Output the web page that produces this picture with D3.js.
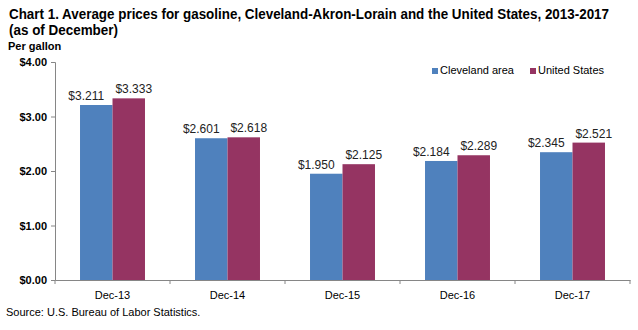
<!DOCTYPE html>
<html>
<head>
<meta charset="utf-8">
<script src="https://cdn.jsdelivr.net/npm/d3@7"></script>
<style>
  body { margin: 0; background: #fff; }
  svg { font-family: "Liberation Sans", Arial, sans-serif; }
</style>
</head>
<body>
<script>
// chart data
const categories = ["Dec-13", "Dec-14", "Dec-15", "Dec-16", "Dec-17"];
const seriesNames = ["Cleveland area", "United States"];
const cleveland = [3.211, 2.601, 1.950, 2.184, 2.345];
const unitedStates = [3.333, 2.618, 2.125, 2.289, 2.521];
const yTicks = [0, 1, 2, 3, 4];
const colors = ["#4F81BD", "#953462"];

const width = 638, height = 330;
const margin = { left: 55, right: 8, top: 62, bottom: 50 };

const svg = d3.select("body").append("svg")
  .attr("width", width)
  .attr("height", height);

// title
svg.append("text")
  .attr("x", 9).attr("y", 19)
  .attr("font-size", 14).attr("font-weight", "bold")
  .attr("textLength", 600).attr("lengthAdjust", "spacingAndGlyphs")
  .text("Chart 1. Average prices for gasoline, Cleveland-Akron-Lorain and the United States, 2013-2017");
svg.append("text")
  .attr("x", 9).attr("y", 35)
  .attr("font-size", 14).attr("font-weight", "bold")
  .attr("textLength", 109).attr("lengthAdjust", "spacingAndGlyphs")
  .text("(as of December)");
svg.append("text")
  .attr("x", 8).attr("y", 50)
  .attr("font-size", 11).attr("font-weight", "bold")
  .text("Per gallon");

const x = d3.scaleBand()
  .domain(categories)
  .range([margin.left, width - margin.right]);

const xInner = d3.scaleBand()
  .domain(seriesNames)
  .range([0, x.bandwidth()])
  .paddingOuter(0.77);

const y = d3.scaleLinear()
  .domain([0, 4])
  .range([height - margin.bottom, margin.top]);

// y axis
const yAxis = svg.append("g")
  .attr("transform", `translate(${margin.left},0)`)
  .call(d3.axisLeft(y).tickValues(yTicks).tickSize(4).tickFormat(d => "$" + d3.format(".2f")(d)));
yAxis.select(".domain").attr("stroke", "#868686");
yAxis.selectAll(".tick line").attr("stroke", "#868686");
yAxis.selectAll(".tick text")
  .attr("font-size", 11).attr("font-weight", "bold")
  .attr("font-family", "Liberation Sans, Arial, sans-serif")
  .attr("fill", "#000").attr("x", -8);

// x axis
const xAxis = svg.append("g")
  .attr("transform", `translate(0,${height - margin.bottom})`)
  .call(d3.axisBottom(x).tickSize(0).tickPadding(11));
xAxis.select(".domain").attr("stroke", "#868686");
xAxis.selectAll(".tick text")
  .attr("font-size", 11)
  .attr("font-family", "Liberation Sans, Arial, sans-serif")
  .attr("fill", "#000");
// separator ticks between categories
svg.append("g").selectAll("line")
  .data(categories.concat(["end"]))
  .join("line")
  .attr("x1", (d, i) => margin.left + i * x.bandwidth())
  .attr("x2", (d, i) => margin.left + i * x.bandwidth())
  .attr("y1", height - margin.bottom)
  .attr("y2", height - margin.bottom + 4)
  .attr("stroke", "#868686");

// bars
const seriesData = [cleveland, unitedStates];
const labelShift = [-10, 5]; // labels pushed apart so they don't collide
const groups = svg.append("g").selectAll("g")
  .data(seriesNames)
  .join("g")
  .attr("fill", (d, i) => colors[i]);

groups.selectAll("rect")
  .data((s, si) => seriesData[si].map((v, i) => ({ s, v, cat: categories[i] })))
  .join("rect")
  .attr("x", d => x(d.cat) + xInner(d.s))
  .attr("width", xInner.bandwidth())
  .attr("y", d => y(d.v))
  .attr("height", d => y(0) - y(d.v));

// value labels
groups.selectAll("text")
  .data((s, si) => seriesData[si].map((v, i) => ({ s, si, v, cat: categories[i] })))
  .join("text")
  .attr("x", d => x(d.cat) + xInner(d.s) + xInner.bandwidth() / 2 + labelShift[d.si])
  .attr("y", d => y(d.v) - 5)
  .attr("text-anchor", "middle")
  .attr("font-size", 12)
  .attr("fill", "#222")
  .text(d => "$" + d3.format(".3f")(d.v));

// legend
const legend = svg.append("g").attr("transform", "translate(432,74)");
const legendX = [0, 98];
seriesNames.forEach((name, i) => {
  legend.append("rect")
    .attr("x", legendX[i]).attr("y", -6)
    .attr("width", 6).attr("height", 6)
    .attr("fill", colors[i]);
  legend.append("text")
    .attr("x", legendX[i] + 8).attr("y", 0)
    .attr("font-size", 11)
    .text(name);
});

// source
svg.append("text")
  .attr("x", 6).attr("y", 316)
  .attr("font-size", 11)
  .text("Source: U.S. Bureau of Labor Statistics.");
</script>
</body>
</html>
